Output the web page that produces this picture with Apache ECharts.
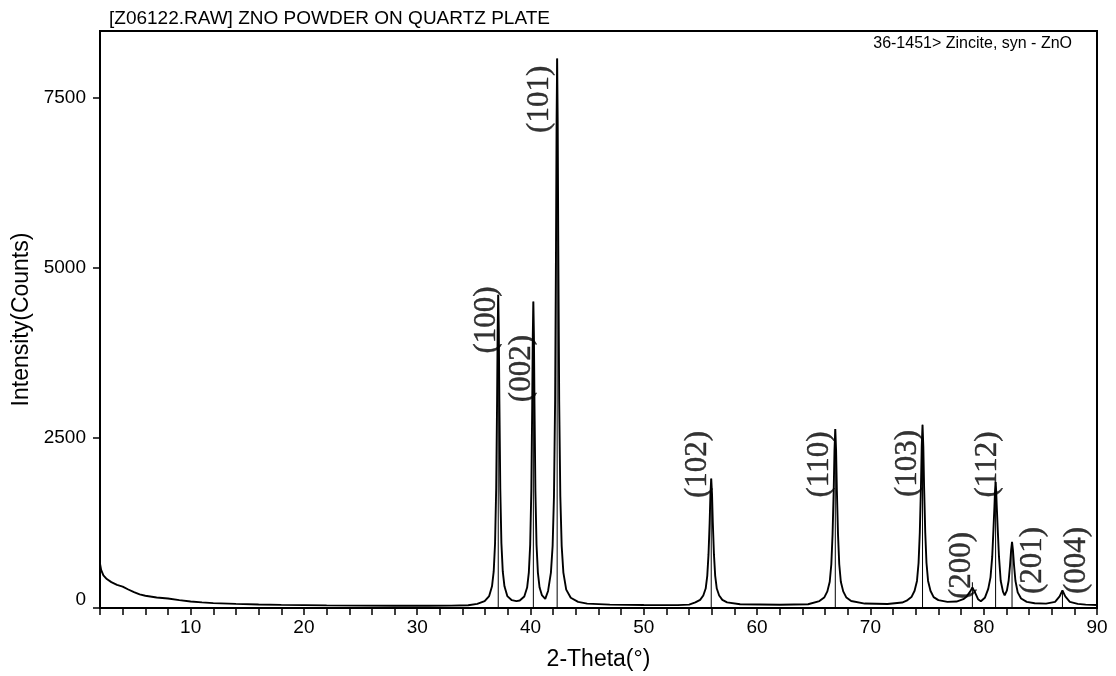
<!DOCTYPE html>
<html>
<head>
<meta charset="utf-8">
<script src="https://cdn.jsdelivr.net/npm/echarts@6/dist/echarts.min.js"></script>
<style>
html,body{margin:0;padding:0;background:#fff;}
#chart{width:1116px;height:676px;}
</style>
</head>
<body>
<div id="chart"></div>
<script>
// ---- data ----
const titleText = '[Z06122.RAW] ZNO POWDER ON QUARTZ PLATE';
const cardName = '36-1451> Zincite, syn - ZnO';

// measured profile: 2-theta (deg) and intensity (counts)
const twoTheta = [
  2.0, 2.1, 2.3, 2.6, 3.0, 3.5, 4.0, 4.5, 5.0, 5.5, 6.0, 7.0, 8.0, 9.0, 10.0, 11.0, 12.0, 14.0, 16.0, 18.0,
  20.0, 22.0, 25.0, 28.0, 31.0, 33.0, 34.5, 35.3, 35.95, 36.35, 36.6, 36.75, 36.87, 36.97, 37.05, 37.1, 37.15, 37.2, 37.25, 37.33,
  37.43, 37.55, 37.7, 37.95, 38.35, 38.75, 39.05, 39.45, 39.7, 39.85, 39.97, 40.07, 40.15, 40.2, 40.25, 40.3, 40.35, 40.43, 40.53, 40.65,
  40.8, 41.0, 41.3, 41.55, 41.8, 41.95, 42.07, 42.17, 42.25, 42.3, 42.35, 42.4, 42.45, 42.53, 42.63, 42.75, 42.9, 43.15, 43.55, 44.2,
  45.0, 47.0, 50.0, 53.0, 54.0, 54.55, 54.97, 55.25, 55.46, 55.6, 55.71, 55.81, 55.88, 55.95, 56.02, 56.09, 56.19, 56.3, 56.44, 56.65,
  56.93, 57.35, 58.5, 62.0, 64.5, 65.5, 65.92, 66.2, 66.41, 66.55, 66.66, 66.76, 66.83, 66.9, 66.97, 67.04, 67.14, 67.25, 67.39, 67.6,
  67.88, 68.3, 69.5, 71.5, 72.8, 73.2, 73.62, 73.9, 74.11, 74.25, 74.36, 74.46, 74.53, 74.6, 74.67, 74.74, 74.84, 74.95, 75.09, 75.3,
  75.58, 76.0, 76.8, 77.6, 78.2, 78.5, 78.8, 79.0, 79.2, 79.5, 79.75, 80.1, 80.4, 80.6, 80.75, 80.86, 80.95, 81.0, 81.05, 81.1,
  81.15, 81.24, 81.35, 81.5, 81.7, 81.85, 82.05, 82.2, 82.32, 82.42, 82.5, 82.58, 82.68, 82.8, 83.0, 83.3, 83.8, 84.5, 85.5, 86.3,
  86.7, 86.95, 87.2, 87.6, 88.3, 89.0, 90.0
];
const counts = [
  650, 560, 480, 425, 380, 340, 315, 272, 232, 200, 180, 155, 140, 115, 95, 82, 72, 60, 52, 46,
  42, 38, 35, 33, 33, 35, 40, 60, 101, 175, 318, 537, 952, 1760, 3060, 4085, 4600, 4085, 3060, 1760,
  952, 537, 318, 175, 115, 100, 110, 170, 300, 520, 930, 1720, 2990, 4000, 4500, 4000, 2990, 1720, 930, 520,
  300, 190, 135, 250, 520, 910, 1640, 3040, 5320, 7120, 8070, 7120, 5320, 3040, 1640, 910, 520, 270, 150, 90,
  65, 50, 45, 42, 50, 82, 119, 184, 286, 472, 787, 1250, 1675, 1900, 1675, 1250, 787, 472, 286, 184,
  119, 82, 55, 48, 55, 102, 153, 244, 385, 643, 1082, 1727, 2320, 2630, 2320, 1727, 1082, 643, 385, 244,
  153, 102, 65, 58, 80, 108, 160, 253, 398, 661, 1109, 1768, 2374, 2690, 2374, 1768, 1109, 661, 398, 253,
  160, 115, 90, 95, 130, 170, 240, 300, 240, 130, 100, 150, 280, 450, 750, 1150, 1500, 1720, 1850, 1720,
  1500, 1150, 750, 400, 240, 185, 260, 400, 620, 850, 970, 850, 620, 400, 230, 140, 90, 70, 65, 90,
  170, 260, 170, 90, 60, 50, 45
];

// reference card lines (Zincite) : position and height
const stickTheta  = [37.15, 40.25, 42.35, 55.95, 66.9, 74.6, 79.0, 81.05, 82.5, 86.95];
const stickHeight = [4600, 4500, 8070, 1900, 2630, 2690, 380, 1850, 970, 260];

// Miller index annotations, anchored in data coordinates
const peakLabels  = ['(100)', '(002)', '(101)', '(102)', '(110)', '(103)', '(200)', '(112)', '(201)', '(004)'];
const labelTheta  = [36.16, 39.25, 40.84, 54.78, 65.55, 73.31, 78.08, 80.38, 84.35, 88.23];
const labelCounts = [4230, 3517, 7471, 2108, 2108, 2122, 625, 2108, 698, 698];

// axis ticks
const xLabelValues = [10, 20, 30, 40, 50, 60, 70, 80, 90];
const yTickValues  = [0, 2500, 5000, 7500];

// ---- build chart ----
const profileData = twoTheta.map((t, i) => [t, counts[i]]);
const stickData = stickTheta.map((t, i) => [t, stickHeight[i]]);
const labelData = peakLabels.map((n, i) => ({name: n, value: [labelTheta[i], labelCounts[i]]}));

const sans = 'Liberation Sans, Arial, sans-serif';
const chart = echarts.init(document.getElementById('chart'), null, {renderer: 'canvas'});
chart.setOption({
  animation: false,
  backgroundColor: '#fff',
  title: {
    text: titleText,
    left: 109, top: 9, padding: 0,
    textStyle: {fontFamily: sans, fontSize: 19, fontWeight: 'normal', color: '#000'}
  },
  legend: {
    data: [{name: cardName, icon: 'none'}],
    right: 44, top: 36, padding: 0,
    itemWidth: 0, itemGap: 0,
    selectedMode: false,
    textStyle: {fontFamily: sans, fontSize: 16, color: '#000'}
  },
  grid: {
    left: 100, right: 19, top: 31, bottom: 62,
    show: true, borderColor: '#000', borderWidth: 2, backgroundColor: 'transparent'
  },
  xAxis: {
    type: 'value', min: 2, max: 90, interval: 2,
    name: '2-Theta(°)', nameLocation: 'middle', nameGap: 40,
    nameTextStyle: {fontFamily: sans, fontSize: 23, color: '#000'},
    axisLine: {show: true, onZero: false, lineStyle: {color: '#000', width: 2}},
    axisTick: {show: true, inside: false, length: 7, lineStyle: {color: '#000', width: 1.5}},
    axisLabel: {customValues: xLabelValues, margin: 10, fontFamily: sans, fontSize: 19, color: '#000'},
    splitLine: {show: false}
  },
  yAxis: {
    type: 'value', min: 0, max: 8475, interval: 2500,
    name: 'Intensity(Counts)', nameLocation: 'middle', nameGap: 62, nameRotate: 90,
    nameTextStyle: {fontFamily: sans, fontSize: 23, color: '#000'},
    axisLine: {show: true, lineStyle: {color: '#000', width: 2}},
    axisTick: {show: true, customValues: yTickValues, length: 7, lineStyle: {color: '#000', width: 1.5}},
    axisLabel: {
      customValues: yTickValues, margin: 14, fontFamily: sans, fontSize: 19, color: '#000',
      formatter: v => v === 0 ? '{z|0}' : String(v),
      rich: {z: {fontFamily: sans, fontSize: 19, color: '#000', padding: [0, 0, 16, 0]}}
    },
    splitLine: {show: false}
  },
  series: [
    {
      name: cardName, type: 'bar', data: stickData, barWidth: 1,
      itemStyle: {color: '#000'}, z: 2, silent: true
    },
    {
      name: 'profile', type: 'line', data: profileData, showSymbol: false, symbol: 'none',
      lineStyle: {color: '#000', width: 1.9}, z: 3, silent: true
    },
    {
      name: 'hkl', type: 'scatter', data: labelData, symbolSize: 1,
      itemStyle: {color: 'rgba(0,0,0,0)'}, z: 4, silent: true,
      label: {
        show: true, position: 'inside', rotate: 90, formatter: p => p.name,
        align: 'center', verticalAlign: 'middle',
        fontFamily: 'Liberation Serif, Times New Roman, serif', fontSize: 31, color: '#000',
        textBorderColor: '#000', textBorderWidth: 0.4
      }
    }
  ]
});
</script>
</body>
</html>
